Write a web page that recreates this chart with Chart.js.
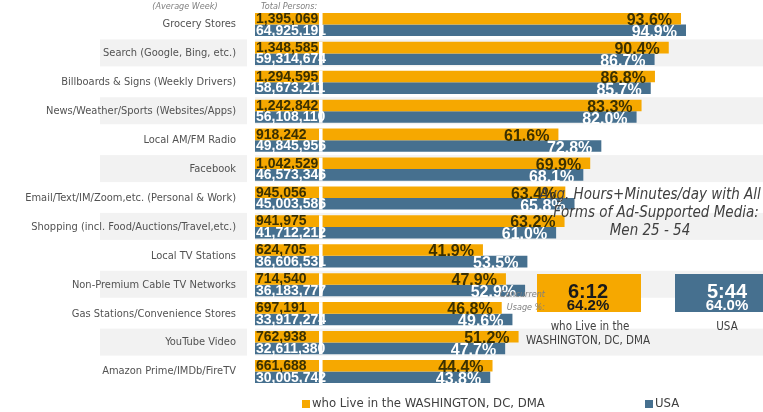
<!DOCTYPE html>
<html>
<head>
<meta charset="utf-8">
<script src="https://cdn.jsdelivr.net/npm/chart.js@4.4.1/dist/chart.umd.min.js"></script>
<style>
  html, body { margin: 0; padding: 0; background: #fff; }
  #wrap { width: 763px; height: 412px; position: relative; }
</style>
</head>
<body>
<div id="wrap"><canvas id="c"></canvas></div>
<script>
// Media reach, Men 25-54 (average week)
const categories = [
  'Grocery Stores',
  'Search (Google, Bing, etc.)',
  'Billboards & Signs (Weekly Drivers)',
  'News/Weather/Sports (Websites/Apps)',
  'Local AM/FM Radio',
  'Facebook',
  'Email/Text/IM/Zoom,etc. (Personal & Work)',
  'Shopping (incl. Food/Auctions/Travel,etc.)',
  'Local TV Stations',
  'Non-Premium Cable TV Networks',
  'Gas Stations/Convenience Stores',
  'YouTube Video',
  'Amazon Prime/IMDb/FireTV'
];
const dcPersons = [1395069, 1348585, 1294595, 1242842, 918242, 1042529, 945056, 941975, 624705, 714540, 697191, 762938, 661688];
const usaPersons = [64925191, 59314674, 58673211, 56108110, 49845956, 46573346, 45003586, 41712212, 36606531, 36183777, 33917274, 32611380, 30005742];
const dcPct = [93.6, 90.4, 86.8, 83.3, 61.6, 69.9, 63.4, 63.2, 41.9, 47.9, 46.8, 51.2, 44.4];
const usaPct = [94.9, 86.7, 85.7, 82.0, 72.8, 68.1, 65.8, 61.0, 53.5, 52.9, 49.6, 47.7, 43.8];

// Resumo: tempo médio/dia e uso concorrente
const seriesNames = ['who Live in the WASHINGTON, DC, DMA', 'USA'];
const avgTime = ['6:12', '5:44'];
const concurrentPct = [64.2, 64.0];

const ORANGE = '#F6A800';
const BLUE = '#46708F';
const BAND = '#F2F2F2';
const DARK = '#3b3000';
const AXIS_MIN = -17.6;   // espaço à esquerda para a caixa "Total Persons"
const COND = '"DejaVu Sans Condensed", "DejaVu Sans", sans-serif';
const SANS = '"Liberation Sans", Arial, sans-serif';

const decor = {
  id: 'decor',
  beforeDraw(chart) {
    const { ctx, chartArea, scales: { y } } = chart;
    ctx.save();
    ctx.fillStyle = BAND;
    categories.forEach((c, i) => {
      if (i % 2 === 0) return;
      const yc = y.getPixelForValue(i);
      ctx.fillRect(100, yc - 14, 147, 27);
      ctx.fillRect(chartArea.left, yc - 14, chartArea.right - chartArea.left, 27);
    });
    ctx.restore();
  },
  afterDatasetsDraw(chart) {
    const { ctx, scales: { x } } = chart;
    const x0 = x.getPixelForValue(0);
    ctx.save();
    ctx.textBaseline = 'alphabetic';

    // totais de pessoas dentro das caixas
    ctx.font = 'bold 14px ' + SANS;
    ctx.textAlign = 'left';
    [[0, dcPersons, DARK], [2, usaPersons, '#ffffff']].forEach(([di, vals, col]) => {
      ctx.fillStyle = col;
      chart.getDatasetMeta(di).data.forEach((bar, i) => {
        const left = Math.min(bar.x, bar.base);
        ctx.fillText(vals[i].toLocaleString('en-US'), left + 1, bar.y + bar.height / 2 - 1.5);
      });
    });

    // separador branco entre caixa e barra
    ctx.fillStyle = '#ffffff';
    const top = chart.getDatasetMeta(0).data;
    const bot = chart.getDatasetMeta(2).data;
    top.forEach((bar, i) => {
      const y1 = bar.y - bar.height / 2;
      const y2 = bot[i].y + bot[i].height / 2;
      ctx.fillRect(x0 - 3.4, y1, 3.4, y2 - y1);
    });

    // percentuais
    ctx.font = 'bold 16px ' + SANS;
    ctx.textAlign = 'right';
    [[1, dcPct, DARK, 0.5], [3, usaPct, '#ffffff', 1]].forEach(([di, vals, col, dy]) => {
      ctx.fillStyle = col;
      chart.getDatasetMeta(di).data.forEach((bar, i) => {
        ctx.fillText(vals[i].toFixed(1) + '%', bar.x - 9, bar.y + bar.height / 2 + dy);
      });
    });
    ctx.restore();
  },
  afterDraw(chart) {
    const { ctx } = chart;
    ctx.save();
    ctx.textBaseline = 'middle';

    // cabeçalhos pequenos
    ctx.fillStyle = '#7f7f7f';
    ctx.font = 'italic 9px ' + COND;
    ctx.textAlign = 'center';
    ctx.fillText('(Average Week)', 185, 7);
    ctx.textAlign = 'left';
    ctx.fillText('Total Persons:', 261, 7);

    // título do painel direito
    ctx.fillStyle = '#404040';
    ctx.font = 'italic 15px ' + COND;
    ctx.textAlign = 'center';
    ctx.fillText('Avg. Hours+Minutes/day with All', 650, 195);
    ctx.fillText('Forms of Ad-Supported Media:', 656, 213);
    ctx.fillText('Men 25 - 54', 650, 231);

    // caixas de resumo
    ctx.fillStyle = ORANGE;
    ctx.fillRect(537, 274, 104, 38);
    ctx.fillStyle = BLUE;
    ctx.fillRect(675, 274, 88, 38);

    ctx.font = 'bold 20px ' + SANS;
    ctx.fillStyle = '#1a1a1a';
    ctx.fillText(avgTime[0], 588, 292);
    ctx.fillStyle = '#ffffff';
    ctx.fillText(avgTime[1], 727, 292);
    ctx.font = 'bold 15px ' + SANS;
    ctx.fillStyle = '#1a1a1a';
    ctx.fillText(concurrentPct[0].toFixed(1) + '%', 588, 306);
    ctx.fillStyle = '#ffffff';
    ctx.fillText(concurrentPct[1].toFixed(1) + '%', 727, 306);

    ctx.fillStyle = '#7f7f7f';
    ctx.font = 'italic 9px ' + COND;
    ctx.textAlign = 'right';
    ctx.fillText('Concurrent', 545, 295);
    ctx.fillText('Usage %:', 545, 308);

    ctx.fillStyle = '#404040';
    ctx.font = '11.5px ' + COND;
    ctx.textAlign = 'center';
    ctx.fillText('who Live in the', 590, 327);
    ctx.fillText('WASHINGTON, DC, DMA', 588, 341);
    ctx.fillText(seriesNames[1], 727, 327);

    // legenda
    ctx.font = '13px ' + COND;
    ctx.textAlign = 'left';
    ctx.fillStyle = ORANGE;
    ctx.fillRect(302, 400, 8, 8);
    ctx.fillStyle = '#404040';
    ctx.fillText(seriesNames[0], 312, 404);
    ctx.fillStyle = BLUE;
    ctx.fillRect(645, 400, 8, 8);
    ctx.fillStyle = '#404040';
    ctx.fillText(seriesNames[1], 655, 404);
    ctx.restore();
  }
};

const boxRange = categories.map(() => [AXIS_MIN, 0]);

new Chart(document.getElementById('c'), {
  type: 'bar',
  data: {
    labels: categories,
    datasets: [
      { label: 'dc-box', data: boxRange, backgroundColor: ORANGE, stack: 'dc' },
      { label: seriesNames[0], data: dcPct, backgroundColor: ORANGE, stack: 'dc' },
      { label: 'usa-box', data: boxRange, backgroundColor: BLUE, stack: 'usa' },
      { label: seriesNames[1], data: usaPct, backgroundColor: BLUE, stack: 'usa' }
    ]
  },
  options: {
    indexAxis: 'y',
    responsive: true,
    maintainAspectRatio: false,
    animation: false,
    categoryPercentage: 0.8,
    barPercentage: 1.0,
    layout: { padding: { top: 10, bottom: 26, left: 0, right: 0 } },
    plugins: {
      legend: { display: false },
      tooltip: { enabled: false }
    },
    scales: {
      x: {
        display: false,
        stacked: false,
        min: AXIS_MIN,
        max: 115
      },
      y: {
        grid: { display: false },
        border: { display: false },
        ticks: {
          color: '#525252',
          padding: 11,
          font: { family: COND, size: 11 }
        },
        afterFit: scale => {
          scale.width = 255;
          scale.paddingTop = 0;
          scale.paddingBottom = 0;
        }
      }
    }
  },
  plugins: [decor]
});
</script>
</body>
</html>
